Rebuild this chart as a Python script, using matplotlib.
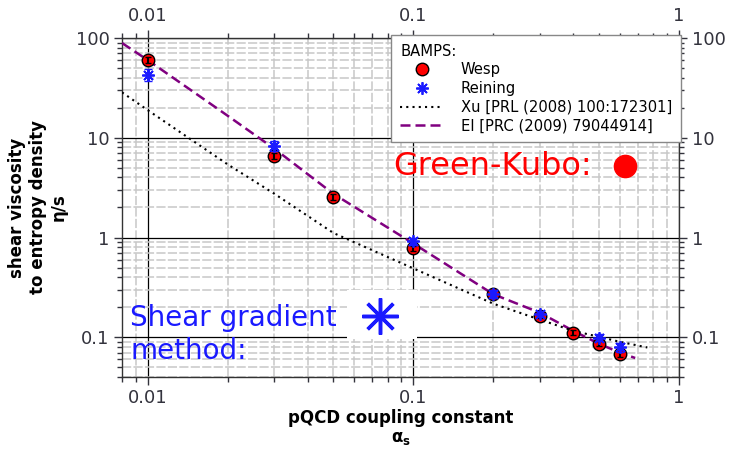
import matplotlib.pyplot as plt
import matplotlib.ticker as mticker
from matplotlib.patches import Rectangle
import numpy as np

# BAMPS results: eta/s vs alpha_s
wesp_alpha = [0.01, 0.03, 0.05, 0.1, 0.2, 0.3, 0.4, 0.5, 0.6]
wesp_eta_s = [60, 6.6, 2.55, 0.78, 0.27, 0.165, 0.111, 0.086, 0.068]
wesp_err = [4, 0.5, 0.15, 0.05, 0.015, 0.01, 0.006, 0.005, 0.004]

reining_alpha = [0.01, 0.03, 0.1, 0.2, 0.3, 0.5, 0.6]
reining_eta_s = [43, 8.3, 0.92, 0.27, 0.172, 0.099, 0.08]
reining_err = [6, 0.9, 0.08, 0.025, 0.012, 0.008, 0.008]

# Xu [PRL (2008) 100:172301]
xu_alpha = [0.008, 0.01, 0.02, 0.03, 0.05, 0.1, 0.2, 0.3, 0.4, 0.5, 0.6, 0.76]
xu_eta_s = [28.5, 18.9, 5.4, 2.74, 1.11, 0.49, 0.217, 0.15, 0.116, 0.101, 0.09, 0.079]

# El [PRC (2009) 79044914]
el_alpha = [0.008, 0.01, 0.02, 0.03, 0.05, 0.1, 0.2, 0.3, 0.4, 0.5, 0.6, 0.684]
el_eta_s = [89, 60, 16.6, 7.75, 2.74, 0.87, 0.27, 0.176, 0.116, 0.086, 0.07, 0.062]

tick_color = '#33333d'
blue = '#1a1aff'

fig = plt.figure(figsize=(7.32, 4.49), dpi=100)
ax = fig.add_axes([0.1667, 0.1604, 0.7609, 0.755])
ax.set_xscale('log')
ax.set_yscale('log')
ax.set_xlim(0.008, 1)
ax.set_ylim(0.04, 100)

# grid: black decades, light gray minors
ax.grid(which='major', color='black', lw=0.9, zorder=0)
ax.grid(which='minor', color='#c8c8c8', lw=1.1, ls=(0, (6, 1.5)), zorder=0)
ax.set_axisbelow(True)

ax.plot(el_alpha, el_eta_s, color='#800080', lw=1.8, dashes=(4, 2),
        label='El [PRC (2009) 79044914]', zorder=3)
ax.plot(xu_alpha, xu_eta_s, color='black', lw=1.5, ls=(0, (1, 2)),
        label='Xu [PRL (2008) 100:172301]', zorder=3)

ax.plot(wesp_alpha, wesp_eta_s, 'o', ms=9, mfc='#ff0000', mec='black', mew=1,
        label='Wesp', zorder=4)
ax.errorbar(wesp_alpha, wesp_eta_s, yerr=wesp_err, fmt='none', ecolor='black',
            elinewidth=1.5, capsize=2, zorder=5)
ax.errorbar(reining_alpha, reining_eta_s, yerr=reining_err, fmt='none', ecolor=blue,
            elinewidth=2, capsize=3, zorder=6)
ax.plot(reining_alpha, reining_eta_s, ls='none', marker=(8, 2, 0), ms=9, mec=blue,
        mew=1.3, label='Reining', zorder=6)

# ticks on all four sides
fmt = mticker.FuncFormatter(lambda v, p: '%g' % v)
for axis in (ax.xaxis, ax.yaxis):
    axis.set_major_formatter(fmt)
    axis.set_minor_formatter(mticker.NullFormatter())
ax.yaxis.set_major_locator(mticker.FixedLocator([0.1, 1, 10, 100]))
ax.tick_params(which='both', direction='out', colors=tick_color, labelsize=13,
               top=True, right=True, labeltop=True, labelright=True, pad=3)
ax.tick_params(which='major', length=6, width=1)
ax.tick_params(which='minor', length=3.5, width=1)
for s in ax.spines.values():
    s.set_color('#333333')
    s.set_linewidth(1)

ax.set_xlabel('pQCD coupling constant\n$\\mathbf{\\alpha_s}$', fontsize=12,
              fontweight='bold', labelpad=1, linespacing=1.1)
ax.set_ylabel('shear viscosity\nto entropy density\n\u03b7/s', fontsize=12,
              fontweight='bold', labelpad=6)

handles, labels = ax.get_legend_handles_labels()
order = [2, 3, 1, 0]
leg = ax.legend([handles[i] for i in order], [labels[i] for i in order],
                title='BAMPS:', alignment='left', loc='upper right',
                bbox_to_anchor=(1.003, 1.009), borderaxespad=0, fontsize=10.6,
                title_fontsize=10.6, handlelength=2.9, fancybox=False,
                framealpha=1, edgecolor='#888888', labelspacing=0.25,
                handletextpad=1.2, borderpad=0.6)
leg.set_zorder(10)

# Green-Kubo annotation
ax.text(0.4865, 0.622, 'Green-Kubo:', transform=ax.transAxes, color='#ff0000',
        fontsize=23, va='center', ha='left', zorder=8)
ax.plot([0.903], [0.622], 'o', ms=16, color='#ff0000', transform=ax.transAxes,
        clip_on=False, zorder=8)

# shear gradient annotation
ax.text(0.0144, 0.125, 'Shear gradient\nmethod:', transform=ax.transAxes,
        color=blue, fontsize=20, va='center', ha='left', linespacing=1.2, zorder=8)
ax.add_patch(Rectangle((0.404, 0.112), 0.126, 0.145, transform=ax.transAxes,
                       facecolor='white', edgecolor='none', zorder=7))
ax.plot([0.463], [0.18], ls='none', marker=(8, 2, 0), ms=26, mec=blue, mew=2.5,
        transform=ax.transAxes, zorder=8)

fig.savefig('out.png', dpi=100)
